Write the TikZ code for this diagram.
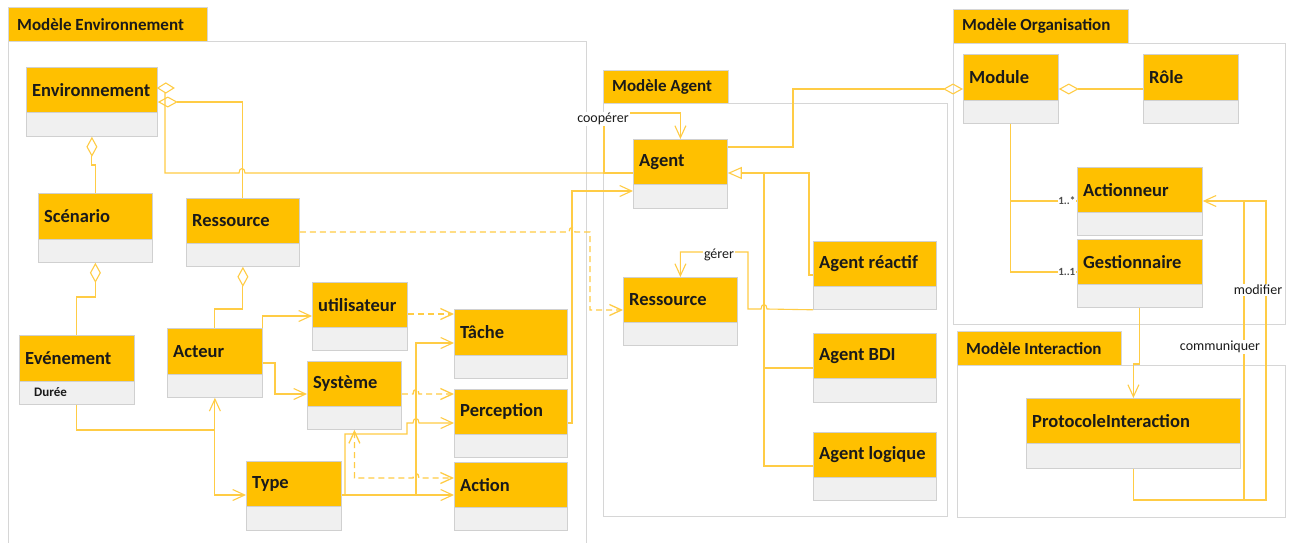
\documentclass[tikz,border=0pt]{standalone}
\usepackage{fontspec}
\setmainfont{Carlito}
\usetikzlibrary{arrows.meta}
\definecolor{hdr}{HTML}{FFC000}
\definecolor{cmp}{HTML}{F0F0F0}
\definecolor{bdr}{HTML}{D0D0D0}
\definecolor{lnc}{HTML}{FFCC45}
\definecolor{pkg}{HTML}{D6D6D6}
\definecolor{txt}{HTML}{1A1A1A}
\tikzset{
  hdrbox/.style={draw=bdr, fill=hdr, line width=0.8pt, inner sep=0pt, anchor=north west},
  cmpbox/.style={draw=bdr, fill=cmp, line width=0.8pt, inner sep=0pt, anchor=north west},
  ttl/.style={font=\bfseries\fontsize{18.5}{20}\selectfont, text=txt, anchor=west, inner sep=0pt},
  pkgtab/.style={draw=pkg, fill=hdr, line width=0.8pt, inner sep=0pt, anchor=north west},
  pkgline/.style={draw=pkg, line width=0.8pt},
  pttl/.style={font=\bfseries\fontsize{17}{19}\selectfont, text=txt, anchor=west, inner sep=0pt},
  cn/.style={draw=lnc, line width=1.1pt},
  dep/.style={draw=lnc, line width=1.3pt, dash pattern=on 6pt off 4pt},
  oarrow/.style={-{Straight Barb[length=12pt,width=11pt]}},
  both/.style={{Straight Barb[length=12pt,width=11pt]}-{Straight Barb[length=12pt,width=11pt]}},
  aggs/.style={{Diamond[open,length=20pt,width=11pt]}-},
  agge/.style={-{Diamond[open,length=20pt,width=11pt]}},
  inhe/.style={-{Triangle[open,length=14pt,width=12pt]}},
  lbl/.style={font=\fontsize{14}{16}\selectfont, text=txt, fill=white, inner sep=1pt},
  mult/.style={font=\bfseries\fontsize{11}{13}\selectfont, text=black!70, fill=white, inner sep=0.5pt},
  attr/.style={font=\bfseries\fontsize{13}{15}\selectfont, text=txt, anchor=west, inner sep=0pt}
}
\newcommand\umlcls[7]{%
  \node[hdrbox, minimum width={(#4-#2)*1pt}, minimum height={(#5-#3)*1pt}] (#1) at (#2,#3) {};
  \node[cmpbox, minimum width={(#4-#2)*1pt}, minimum height={(#6-#5)*1pt}] (#1-a) at (#2,#5) {};
  \node[ttl] (#1-t) at ([xshift=6pt]#1.west) {#7};
}
\newcommand\umlpkg[8]{%
  \draw[pkgline, fill=white] (#2,#5) rectangle (#6,#7);
  \node[pkgtab, minimum width={(#4-#2)*1pt}, minimum height={(#5-#3)*1pt}] (#1) at (#2,#3) {};
  \node[pttl] (#1-t) at ([xshift=9pt]#1.west) {#8};
}
\begin{document}
\begin{tikzpicture}[x=1pt, y=-1pt]
\useasboundingbox (0,0) rectangle (1293,542);
\fill[white] (0,0) rectangle (1293,542);
% packages
\umlpkg{pE}{8}{7}{207}{41}{586}{548}{Modèle Environnement}
\umlpkg{pA}{603}{70}{728}{103}{947}{516}{Modèle Agent}
\umlpkg{pO}{953}{9}{1128}{43}{1285}{324}{Modèle Organisation}
\umlpkg{pI}{957}{331}{1121}{365}{1285}{517}{Modèle Interaction}
% classes
\umlcls{env}{26}{67}{157}{112}{136}{Environnement}
\umlcls{scen}{38}{193}{152}{239}{262}{Scénario}
\umlcls{ressE}{186}{198}{299}{243}{266}{Ressource}
\umlcls{even}{19}{335}{134}{381}{404}{Evénement}
\umlcls{acteur}{167}{328}{262}{374}{397}{Acteur}
\umlcls{type}{246}{461}{341}{506}{530}{Type}
\umlcls{util}{312}{282}{407}{327}{350}{utilisateur}
\umlcls{sys}{307}{361}{401}{406}{429}{Système}
\umlcls{tache}{454}{309}{567}{355}{378}{Tâche}
\umlcls{perc}{454}{389}{567}{434}{457}{Perception}
\umlcls{action}{454}{462}{567}{507}{530}{Action}
\umlcls{agent}{633}{139}{727}{184}{208}{Agent}
\umlcls{ressA}{623}{277}{737}{322}{345}{Ressource}
\umlcls{areac}{813}{241}{936}{286}{309}{Agent réactif}
\umlcls{abdi}{813}{333}{936}{378}{402}{Agent BDI}
\umlcls{alog}{813}{432}{936}{477}{500}{Agent logique}
\umlcls{module}{963}{54}{1058}{100}{123}{Module}
\umlcls{role}{1143}{54}{1238}{100}{123}{Rôle}
\umlcls{actn}{1077}{167}{1202}{212}{235}{Actionneur}
\umlcls{gest}{1077}{239}{1202}{284}{307}{Gestionnaire}
\umlcls{proto}{1026}{398}{1240}{443}{468}{ProtocoleInteraction}
\node[attr] (duree) at (34,392.5) {Durée};
% connectors: environment
\draw[cn,aggs] (env-a.south) -- (env-a.south |- 0,165) -- (scen.north |- 0,165) -- (scen.north);
\draw[cn,aggs] (scen-a.south) -- (scen-a.south |- 0,297) -- (even.north |- 0,297) -- (even.north);
\draw[cn,aggs] (ressE-a.south) -- (ressE-a.south |- 0,309) -- (acteur.north |- 0,309) -- (acteur.north);
\draw[cn,aggs] (env.east |- 0,102) -- (ressE.north |- 0,102) -- (ressE.north);
\draw[cn] (env.east |- 0,88) -- ++(8,-5) -- ++(8,5) -- ++(-8,5) -- cycle;
\coordinate (d1) at (165,93);
\draw[cn] (d1) -- (d1 |- 0,173) -- (239,173) .. controls (239,167) and (245,167) .. (245,173) -- (agent.west |- 0,173);
\draw[cn,oarrow] (acteur.north east) -- (acteur.north east |- 0,316) -- (util.west |- 0,316);
\draw[cn,oarrow] (acteur.east |- 0,363) -- (275,363) -- (275,394) -- (sys.west |- 0,394);
\draw[cn,oarrow] (even-a.south) -- (even-a.south |- 0,430) -- (acteur-a.south |- 0,430) -- (acteur-a.south);
\draw[cn,oarrow] (acteur-a.south |- 0,430) -- (acteur-a.south |- 0,495) -- (type.west |- 0,495);
\draw[dep,oarrow] (util.east |- 0,314) -- (tache.west |- 0,314);
\draw[dep,oarrow] (sys.east |- 0,394) -- (413,394) .. controls (413,388) and (419,388) .. (419,394) -- (perc.west |- 0,394);
\draw[cn,oarrow] (type.east |- 0,495) -- (416,495) -- (416,343) -- (tache.west |- 0,343);
\draw[cn,oarrow] (type.east |- 0,495) -- (action.west |- 0,495);
\draw[cn,oarrow] (345,495) -- (345,434) -- (407,434) -- (407,423) -- (413,423) .. controls (413,417) and (419,417) .. (419,423) -- (perc.west |- 0,423);
\draw[dep,both] (sys-a.south) -- (sys-a.south |- 0,478) -- (413,478) .. controls (413,472) and (419,472) .. (419,478) -- (action.west |- 0,478);
% environment to agent
\draw[cn,oarrow] (perc.east |- 0,423) -- (572,423) -- (572,191) -- (agent.west |- 0,191);
\draw[dep,oarrow] (ressE.east |- 0,232) -- (569,232) .. controls (569,226) and (575,226) .. (575,232) -- (590,232) -- (590,310) -- (ressA.west |- 0,310);
% agent
\draw[cn,oarrow] (agent.west |- 0,173) -- (604,173) -- (604,113) -- (agent.north |- 0,113) -- (agent.north);
\node[lbl] (lcoop) at (603,119) {coopérer};
\draw[cn,inhe] (areac.west |- 0,275) -- (809,275) -- (809,173) -- (agent.east |- 0,173);
\draw[cn] (abdi.west |- 0,368) -- (764,368) -- (764,173);
\draw[cn] (alog.west |- 0,466) -- (764,466) -- (764,368);
\draw[cn,oarrow] (areac-a.south west) -- (767,309) .. controls (767,303) and (761,303) .. (761,309) -- (748,309) -- (748,252) -- (ressA.north |- 0,252) -- (ressA.north);
\node[lbl] (lger) at (719,255) {gérer};
% agent to organisation
\draw[cn,agge] (agent.east |- 0,147) -- (793,147) -- (793,89) -- (module.west |- 0,89);
\draw[cn,agge] (role.west |- 0,89) -- (module.east |- 0,89);
\draw[cn] (module-a.south) -- (module-a.south |- 0,272) -- (gest.west |- 0,272);
\draw[cn] (module-a.south |- 0,201) -- (actn.west |- 0,201);
\node[mult, anchor=east, xshift=-1pt] (m1) at (actn.west |- 0,201) {1..*};
\node[mult, anchor=east, xshift=-1pt] (m2) at (gest.west |- 0,272) {1..1};
\draw[cn,oarrow] (gest-a.south) -- (gest-a.south |- 0,364) -- (proto.north |- 0,364) -- (proto.north);
\draw[cn,oarrow] (proto-a.south) -- (proto-a.south |- 0,500) -- (1266,500) -- (1266,201) -- (actn.east |- 0,201);
\draw[cn] (1244,500) -- (1244,201);
\node[lbl] (lmod) at (1258,290) {modifier};
\node[lbl] (lcom) at (1220,347) {communiquer};
\end{tikzpicture}
\end{document}
